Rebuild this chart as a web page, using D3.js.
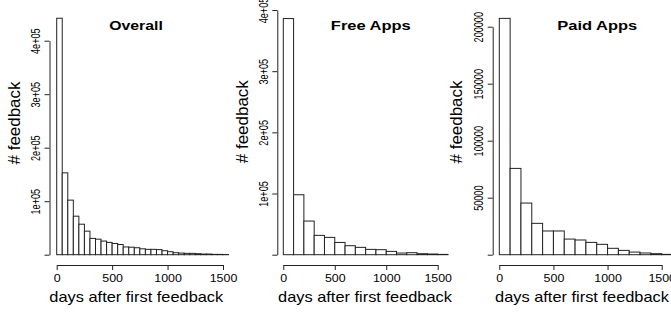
<!DOCTYPE html>
<html>
<head>
<meta charset="utf-8">
<script src="https://cdn.jsdelivr.net/npm/d3@7"></script>
<style>
  body { margin: 0; background: #fff; }
  text { font-family: "Liberation Sans", Arial, Helvetica, sans-serif; fill: #000; }
</style>
</head>
<body>
<div id="chart"></div>
<script>
// data (counts per bin)
const panelTitles = ["Overall", "Free Apps", "Paid Apps"];
const binWidths = [50, 100, 100];
const overallCounts = [442000, 153000, 102000, 72000, 57000, 44000, 30500, 29000, 25500, 23000,
                       21000, 19000, 14500, 14000, 13000, 11000, 10000, 10000, 9500, 7500,
                       5600, 3700, 3000, 2500, 2500, 1900, 1200, 1200, 600, 600, 300];
const freeCounts = [386000, 98000, 55000, 31600, 28300, 20000, 14700, 12000,
                    8700, 8200, 5400, 2700, 3300, 1600, 1100, 500];
const paidCounts = [207300, 75700, 45300, 27500, 20800, 20800, 13700, 12900,
                    10800, 9100, 5600, 3800, 2300, 1500, 900, 300];
const xTickValues = [0, 500, 1000, 1500];
const overallYTicks = [0, 100000, 200000, 300000, 400000];
const freeYTicks = [0, 100000, 200000, 300000, 400000];
const paidYTicks = [0, 50000, 100000, 150000, 200000];
const xLabel = "days after first feedback";
const yLabel = "# feedback";

const width = 671;
const height = 312;
const baseY = 254.7;     // pixel of count 0
const xAxisY = 265;
const lineColor = "#222";

// R style scientific labels, 0 label dropped
const sciFormat = (d) => {
    if (d === 0) return "";
    const e = Math.floor(Math.log10(d));
    return (d / Math.pow(10, e)) + "e+" + String(e).padStart(2, "0");
};
const plainFormat = (d) => d === 0 ? "" : String(d);

const panels = [
    { counts: overallCounts, bin: binWidths[0], yTicks: overallYTicks, fmt: sciFormat,
      axisX: 49.5, x0: 56.7, x1500: 223, yTop: 40.7, titleX: 136, yLabX: 20, yLabY: 123, xLabX: 136.3 },
    { counts: freeCounts, bin: binWidths[1], yTicks: freeYTicks, fmt: sciFormat,
      axisX: 277.3, x0: 283.3, x1500: 437.7, yTop: 10, titleX: 370.8, yLabX: 248.3, yLabY: 121.7, xLabX: 365 },
    { counts: paidCounts, bin: binWidths[2], yTicks: paidYTicks, fmt: plainFormat,
      axisX: 492.7, x0: 499.3, x1500: 661.7, yTop: 26.7, titleX: 597.3, yLabX: 461.7, yLabY: 122, xLabX: 582 }
];

const svg = d3.select("#chart")
              .append("svg")
              .attr("width", width)
              .attr("height", height);

svg.append("rect").attr("width", width).attr("height", height).attr("fill", "#fff");

// stretch a text horizontally (in its own frame) to a target length
function fitLength(sel, target) {
    sel.each(function() {
        const t = d3.select(this);
        const len = this.getComputedTextLength();
        const base = t.attr("transform") || "";
        t.attr("transform", base + " scale(" + (target / len) + ",1)");
    });
}

panels.forEach((p, k) => {
    const g = svg.append("g");

    const xScale = d3.scaleLinear()
                     .domain([0, 1500])
                     .range([p.x0, p.x1500]);
    const yMax = p.yTicks[p.yTicks.length - 1];
    const yScale = d3.scaleLinear()
                     .domain([0, yMax])
                     .range([baseY, p.yTop]);

    // bars
    g.selectAll("rect.bar")
     .data(p.counts)
     .enter()
     .append("rect")
     .attr("class", "bar")
     .attr("x", (d, i) => xScale(i * p.bin))
     .attr("width", (d, i) => xScale((i + 1) * p.bin) - xScale(i * p.bin))
     .attr("y", (d) => yScale(d))
     .attr("height", (d) => baseY - yScale(d))
     .attr("fill", "#fff")
     .attr("stroke", lineColor)
     .attr("stroke-width", 1);

    // x axis
    const xAxis = d3.axisBottom(xScale)
                    .tickValues(xTickValues)
                    .tickFormat(d3.format("d"))
                    .tickSize(5)
                    .tickSizeOuter(0);
    const gx = g.append("g")
                .attr("transform", "translate(0," + xAxisY + ")")
                .call(xAxis);
    gx.select(".domain").attr("stroke", lineColor);
    gx.selectAll(".tick line").attr("stroke", lineColor);
    gx.selectAll(".tick text")
      .attr("y", 0).attr("dy", 0)
      .attr("font-size", "11.5px")
      .attr("fill", "#000")
      .attr("transform", "translate(0,17.3) scale(1.08,1)");

    // y axis
    const yAxis = d3.axisLeft(yScale)
                    .tickValues(p.yTicks)
                    .tickFormat(p.fmt)
                    .tickSize(5)
                    .tickSizeOuter(0);
    const gy = g.append("g")
                .attr("transform", "translate(" + p.axisX + ",0)")
                .call(yAxis);
    gy.select(".domain").attr("stroke", lineColor);
    gy.selectAll(".tick line").attr("stroke", lineColor);
    gy.selectAll(".tick text")
      .attr("x", 0).attr("dy", 0)
      .attr("text-anchor", "middle")
      .attr("font-size", "12px")
      .attr("fill", "#000")
      .attr("transform", "translate(-9.5,0) rotate(-90) scale(0.76,1)");

    // title
    const title = g.append("text")
     .attr("text-anchor", "middle")
     .attr("font-size", "13px")
     .attr("font-weight", "bold")
     .attr("transform", "translate(" + p.titleX + ",30)")
     .text(panelTitles[k]);
    fitLength(title, panelTitles[k] === "Overall" ? 53.7 : 80);

    // axis titles
    const xl = g.append("text")
     .attr("text-anchor", "middle")
     .attr("font-size", "15px")
     .attr("transform", "translate(" + p.xLabX + ",301.7)")
     .text(xLabel);
    fitLength(xl, 174);

    const yl = g.append("text")
     .attr("text-anchor", "middle")
     .attr("font-size", "16px")
     .attr("transform", "translate(" + p.yLabX + "," + p.yLabY + ") rotate(-90)")
     .text(yLabel);
    fitLength(yl, 83);
});
</script>
</body>
</html>
